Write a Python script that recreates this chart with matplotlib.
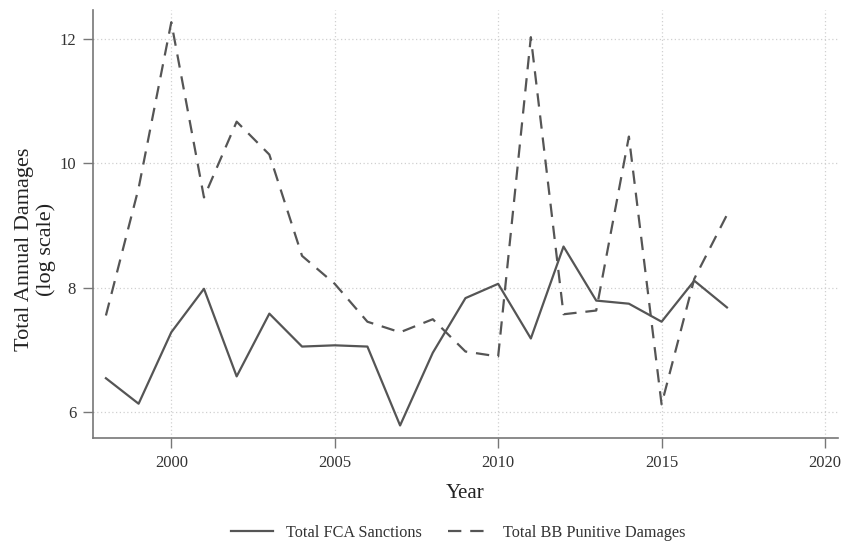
import matplotlib.pyplot as plt
import numpy as np

# Données (log des montants annuels)
years = list(range(1998, 2018))
fca_sanctions = [6.54, 6.13, 7.28, 7.98, 6.57, 7.58, 7.05, 7.07, 7.05, 5.78,
                 6.95, 7.83, 8.06, 7.18, 8.66, 7.79, 7.74, 7.45, 8.11, 7.68]
bb_punitive = [7.55, 9.6, 12.27, 9.45, 10.67, 10.14, 8.51, 8.06, 7.45, 7.28,
               7.49, 6.97, 6.89, 12.03, 7.57, 7.63, 10.43, 6.12, 8.14, 9.17]
x_ticks = [2000, 2005, 2010, 2015, 2020]
y_ticks = [6, 8, 10, 12]

plt.rcParams['font.family'] = ['Liberation Serif', 'DejaVu Serif']

fig = plt.figure(figsize=(8.44, 5.46), dpi=100)
ax = fig.add_axes([0.110, 0.198, 0.883, 0.784])

line_col = '#555555'
ax.plot(years, fca_sanctions, color=line_col, lw=1.6, label='Total FCA Sanctions')
ax.plot(years, bb_punitive, color=line_col, lw=1.6, dashes=(6, 4),
        label='Total BB Punitive Damages')

ax.set_xlim(1997.6, 2020.4)
ax.set_ylim(5.58, 12.47)
ax.set_xticks(x_ticks)
ax.set_yticks(y_ticks)
ax.grid(True, color='#d0d0d0', linestyle=(0, (1, 2)), linewidth=0.9)
ax.set_axisbelow(True)

for s in ['top', 'right']:
    ax.spines[s].set_visible(False)
for s in ['left', 'bottom']:
    ax.spines[s].set_color('#777777')
    ax.spines[s].set_linewidth(1.2)
ax.tick_params(colors='#777777', labelcolor='#333333', labelsize=12, length=7,
               width=1.0, pad=5)

ax.set_xlabel('Year', fontsize=15, color='#222222', labelpad=10)
ax.set_ylabel('Total Annual Damages\n(log scale)', fontsize=16, color='#222222',
              linespacing=1.15)
ax.yaxis.set_label_coords(-0.05, 0.44)

ax.legend(loc='center', bbox_to_anchor=(0.49, -0.222), ncol=2,
          frameon=False, fontsize=11.7, handlelength=2.6, columnspacing=1.6,
          labelcolor='#333333')

plt.savefig('out.png', dpi=100)
